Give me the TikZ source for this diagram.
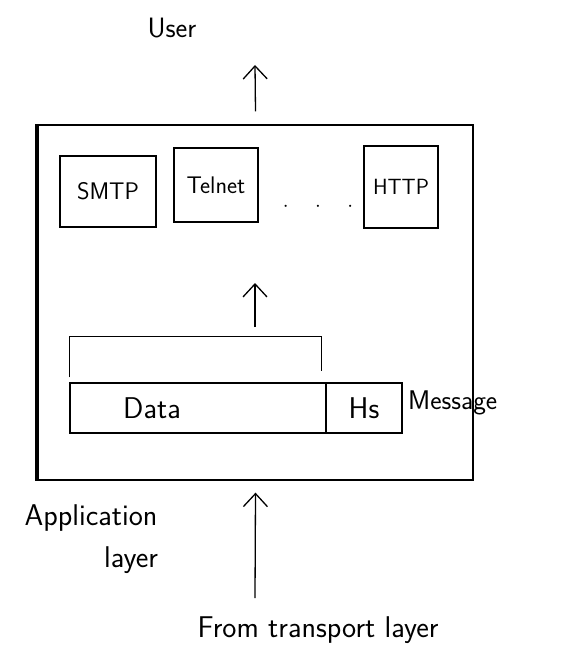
\documentclass[tikz,border=0pt]{standalone}
\usetikzlibrary{arrows.meta}
\begin{document}
\begin{tikzpicture}[x=1pt,y=-1pt,
  pen/.style={line width=1.3pt},
  arr/.style={pen,-{Straight Barb[length=13pt,width=24pt,line width=1.3pt]}},
  protobox/.style={draw,pen,inner sep=0pt,font=\sffamily\fontsize{24}{26}\selectfont},
  field/.style={draw,pen,inner sep=0pt},
  lbl/.style={inner sep=0pt,font=\sffamily\fontsize{30}{32}\selectfont}]
\useasboundingbox (0,0) rectangle (560,668);

% application layer frame
\node[draw,pen,minimum width=435pt,minimum height=355pt,inner sep=0pt] (outer) at (255.5,302.5) {};
\draw[line width=4pt] (outer.north west) -- (outer.south west);

% protocols
\node[protobox,minimum width=96pt,minimum height=71pt] (smtp) at (108,191.5) {SMTP};
\node[protobox,minimum width=84pt,minimum height=74pt] (telnet) at (216,185) {Telnet};
\node[protobox,minimum width=74pt,minimum height=82pt,font=\sffamily\fontsize{22}{24}\selectfont] (http) at (401,187) {HTTP};
\node[inner sep=0pt,font=\fontsize{22}{24}\selectfont] (dots) at (318,207) {$\cdot\quad\cdot\quad\cdot$};

% message: data + header
\node[field,minimum width=256pt,minimum height=50pt] (data) at (198,408) {};
\node[field,minimum width=76pt,minimum height=50pt] (hs) at (364,408) {};
\node[lbl] (datatext) at (152,408) {Data};
\node[lbl] at (hs) (hstext) {Hs};
\node[lbl,anchor=west,font=\sffamily\fontsize{27}{30}\selectfont] (msg) at (408,403) {Message};
\draw[pen] ([yshift=5pt]data.north west) -- ++(0,-41) -- ++(252,0) -- ++(0,35);

% arrows
\coordinate (midtail) at (255,327);
\coordinate (midtip) at (255,283);
\draw[arr] (midtail) -- (midtip);

\node[lbl,font=\sffamily\fontsize{28}{30}\selectfont] (user) at (172,28) {User};
\coordinate (uptip) at (255,65);
\draw[arr] ([yshift=13pt]outer.north) -- (uptip);

\node[lbl] (from) at (318,630) {From transport layer};
\draw[arr] (255,598) coordinate (intail) -- ([yshift=-12pt]outer.south);

\node[lbl] (app) at (91,518) {Application};
\node[lbl] (layer) at (131,560) {layer};
\end{tikzpicture}
\end{document}
